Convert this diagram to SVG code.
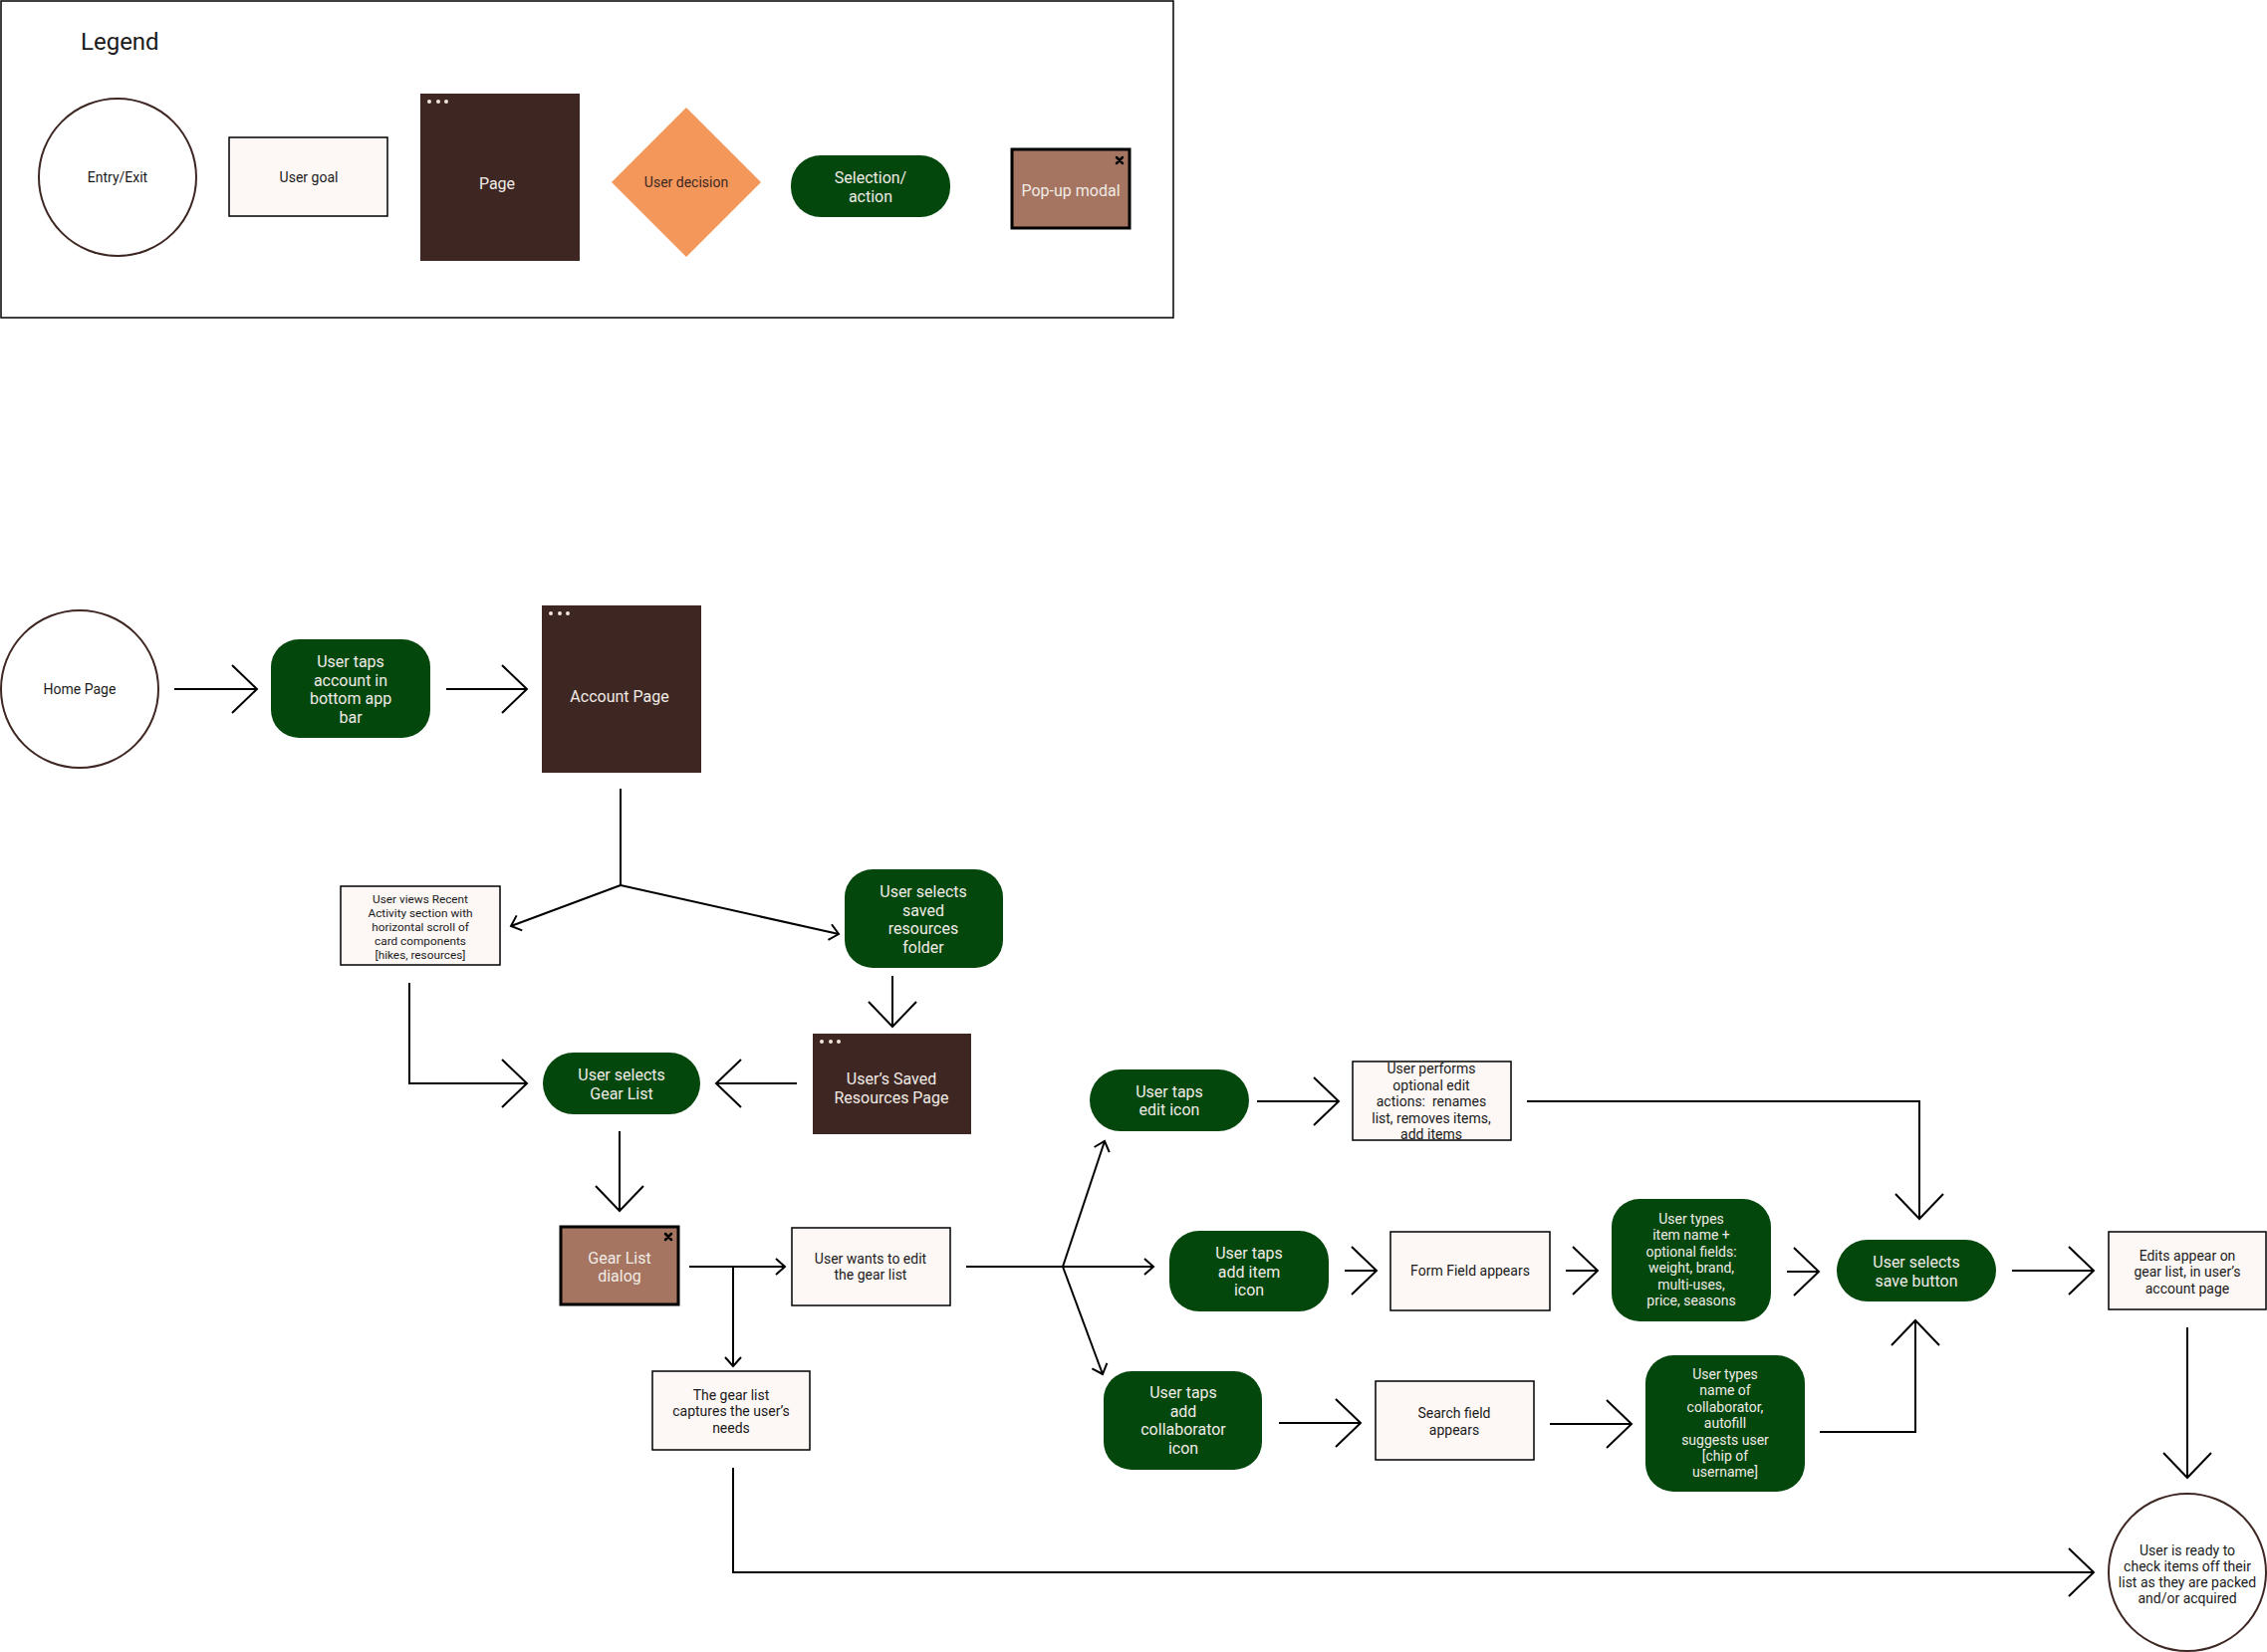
<svg xmlns="http://www.w3.org/2000/svg" width="2276" height="1659" viewBox="0 0 2276 1659">
<style>
text{font-family:Roboto,"Liberation Sans",Arial,sans-serif;text-anchor:middle;dominant-baseline:central}
.dk{fill:#1a1a1a}
.lt{fill:#f1ebe6}
.s16{font-size:16px}
.s14{font-size:14px}
.s12{font-size:11.8px}
.circ{fill:#ffffff;stroke:#3e2723;stroke-width:2}
.goal{fill:#fdf7f6;stroke:#000;stroke-width:1.5}
.page{fill:#3e2723}
.act{fill:#03470d}
.modal{fill:#a57561;stroke:#000;stroke-width:3}
.dot{fill:#f3e6dc}
.xm{stroke:#000;stroke-width:2.5;stroke-linecap:round}
.ln{fill:none;stroke:#000;stroke-width:2}
.big{marker-end:url(#big)}
.sm{marker-end:url(#sm)}
</style>
<defs>
<marker id="big" markerUnits="userSpaceOnUse" markerWidth="60" markerHeight="60" viewBox="-30 -30 60 60" refX="0" refY="0" orient="auto" overflow="visible">
<path d="M-25,-24 L0,0 L-25,24" fill="none" stroke="#000" stroke-width="2"/>
</marker>
<marker id="sm" markerUnits="userSpaceOnUse" markerWidth="30" markerHeight="30" viewBox="-15 -15 30 30" refX="0" refY="0" orient="auto" overflow="visible">
<path d="M-9,-8 L0,0 L-9,8" fill="none" stroke="#000" stroke-width="2"/>
</marker>
</defs>
<rect width="2276" height="1659" fill="#ffffff"/>

<g id="legend">
<rect x="1" y="1" width="1177" height="318" fill="none" stroke="#000" stroke-width="1.5"/>
<text x="81" y="42" class="dk" style="font-size:24px;text-anchor:start">Legend</text>
<g id="legend-entry"><circle cx="118" cy="178" r="79" class="circ"/><text x="118" y="178" class="dk s14">Entry/Exit</text></g>
<g id="legend-goal"><rect x="230" y="138" width="159" height="79" class="goal"/><text x="310" y="178" class="dk s14">User goal</text></g>
<g id="legend-page"><rect x="422" y="94" width="160" height="168" class="page"/><circle cx="431" cy="102" r="2" class="dot"/><circle cx="440" cy="102" r="2" class="dot"/><circle cx="448" cy="102" r="2" class="dot"/><text x="499" y="184" class="lt s16">Page</text></g>
<g id="legend-decision"><polygon points="689,108 764,183 689,258 614,183" fill="#f4975a"/><text x="689" y="183" class="s14" fill="#3e2723">User decision</text></g>
<g id="legend-action"><rect x="794" y="156" width="160" height="62" rx="30" class="act"/><text class="lt s16"><tspan x="874" y="178">Selection/</tspan><tspan x="874" y="197">action</tspan></text></g>
<g id="legend-modal"><rect x="1016" y="150" width="118" height="79" class="modal"/><path d="M1121,158 L1127,164 M1127,158 L1121,164" class="xm"/><text x="1075" y="191" class="lt s16">Pop-up modal</text></g>
</g>

<g id="connectors">
<path d="M175,692 L258,692" class="ln big"/>
<path d="M448,692 L529,692" class="ln big"/>
<path d="M623,792 L623,889" class="ln"/>
<path d="M623,889 L513,930" class="ln sm"/>
<path d="M623,889 L842,938" class="ln sm"/>
<path d="M896,980 L896,1031" class="ln big"/>
<path d="M800,1088 L719,1088" class="ln big"/>
<path d="M411,987 L411,1088 L529,1088" class="ln big"/>
<path d="M622,1136 L622,1216" class="ln big"/>
<path d="M692,1272 L788,1272" class="ln sm"/>
<path d="M736,1272 L736,1372" class="ln sm"/>
<path d="M970,1272 L1067,1272" class="ln"/>
<path d="M1067,1272 L1109,1146" class="ln sm"/>
<path d="M1067,1272 L1158,1272" class="ln sm"/>
<path d="M1067,1272 L1107,1380" class="ln sm"/>
<path d="M1262,1106 L1344,1106" class="ln big"/>
<path d="M1533,1106 L1927,1106 L1927,1224" class="ln big"/>
<path d="M1350,1276 L1382,1276" class="ln big"/>
<path d="M1572,1276 L1604,1276" class="ln big"/>
<path d="M1794,1277 L1826,1277" class="ln big"/>
<path d="M1284,1429 L1366,1429" class="ln big"/>
<path d="M1556,1430 L1638,1430" class="ln big"/>
<path d="M1827,1438 L1923,1438 L1923,1326" class="ln big"/>
<path d="M2020,1276 L2102,1276" class="ln big"/>
<path d="M2196,1333 L2196,1484" class="ln big"/>
<path d="M736,1474 L736,1579 L2102,1579" class="ln big"/>
</g>

<g id="home"><circle cx="80" cy="692" r="79" class="circ"/><text x="80" y="692" class="dk s14">Home Page</text></g>
<g id="tap-account"><rect x="272" y="642" width="160" height="99" rx="28" class="act"/><text class="lt s16"><tspan x="352" y="664">User taps</tspan><tspan x="352" y="683">account in</tspan><tspan x="352" y="701">bottom app</tspan><tspan x="352" y="720">bar</tspan></text></g>
<g id="account-page"><rect x="544" y="608" width="160" height="168" class="page"/><circle cx="553" cy="616" r="2" class="dot"/><circle cx="562" cy="616" r="2" class="dot"/><circle cx="570" cy="616" r="2" class="dot"/><text x="622" y="699" class="lt s16">Account Page</text></g>
<g id="recent"><rect x="342" y="890" width="160" height="79" class="goal"/><text class="dk s12"><tspan x="422" y="903">User views Recent</tspan><tspan x="422" y="917">Activity section with</tspan><tspan x="422" y="931">horizontal scroll of</tspan><tspan x="422" y="945">card components</tspan><tspan x="422" y="959">[hikes, resources]</tspan></text></g>
<g id="saved-folder"><rect x="848" y="873" width="159" height="99" rx="28" class="act"/><text class="lt s16"><tspan x="927" y="895">User selects</tspan><tspan x="927" y="914">saved</tspan><tspan x="927" y="932">resources</tspan><tspan x="927" y="951">folder</tspan></text></g>
<g id="saved-page"><rect x="816" y="1038" width="159" height="101" class="page"/><circle cx="825" cy="1046" r="2" class="dot"/><circle cx="834" cy="1046" r="2" class="dot"/><circle cx="842" cy="1046" r="2" class="dot"/><text class="lt s16"><tspan x="895" y="1083">User’s Saved</tspan><tspan x="895" y="1102">Resources Page</tspan></text></g>
<g id="select-gear"><rect x="545" y="1057" width="158" height="62" rx="31" class="act"/><text class="lt s16"><tspan x="624" y="1079">User selects</tspan><tspan x="624" y="1098">Gear List</tspan></text></g>
<g id="gear-dialog"><rect x="563" y="1232" width="118" height="78" class="modal"/><path d="M668,1239 L674,1245 M674,1239 L668,1245" class="xm"/><text class="lt s16"><tspan x="622" y="1263">Gear List</tspan><tspan x="622" y="1281">dialog</tspan></text></g>
<g id="wants-edit"><rect x="795" y="1233" width="159" height="78" class="goal"/><text class="dk s14"><tspan x="874" y="1264">User wants to edit</tspan><tspan x="874" y="1280">the gear list</tspan></text></g>
<g id="captures"><rect x="655" y="1377" width="158" height="79" class="goal"/><text class="dk s14"><tspan x="734" y="1401">The gear list</tspan><tspan x="734" y="1417">captures the user’s</tspan><tspan x="734" y="1434">needs</tspan></text></g>
<g id="edit-icon"><rect x="1094" y="1074" width="160" height="62" rx="31" class="act"/><text class="lt s16"><tspan x="1174" y="1096">User taps</tspan><tspan x="1174" y="1114">edit icon</tspan></text></g>
<g id="performs"><rect x="1358" y="1066" width="159" height="79" class="goal"/><text class="dk s14"><tspan x="1437" y="1073">User performs</tspan><tspan x="1437" y="1090">optional edit</tspan><tspan x="1437" y="1106">actions:&#160; renames</tspan><tspan x="1437" y="1123">list, removes items,</tspan><tspan x="1437" y="1139">add items</tspan></text></g>
<g id="add-item"><rect x="1174" y="1236" width="160" height="81" rx="30" class="act"/><text class="lt s16"><tspan x="1254" y="1258">User taps</tspan><tspan x="1254" y="1277">add item</tspan><tspan x="1254" y="1295">icon</tspan></text></g>
<g id="form-field"><rect x="1396" y="1237" width="160" height="79" class="goal"/><text x="1476" y="1276" class="dk s14">Form Field appears</text></g>
<g id="add-collab"><rect x="1108" y="1377" width="159" height="99" rx="28" class="act"/><text class="lt s16"><tspan x="1188" y="1398">User taps</tspan><tspan x="1188" y="1417">add</tspan><tspan x="1188" y="1435">collaborator</tspan><tspan x="1188" y="1454">icon</tspan></text></g>
<g id="search-field"><rect x="1381" y="1387" width="159" height="79" class="goal"/><text class="dk s14"><tspan x="1460" y="1419">Search field</tspan><tspan x="1460" y="1436">appears</tspan></text></g>
<g id="types-item"><rect x="1618" y="1204" width="160" height="123" rx="28" class="act"/><text class="lt s14"><tspan x="1698" y="1224">User types</tspan><tspan x="1698" y="1240">item name +</tspan><tspan x="1698" y="1257">optional fields:</tspan><tspan x="1698" y="1273">weight, brand,</tspan><tspan x="1698" y="1290">multi-uses,</tspan><tspan x="1698" y="1306">price, seasons</tspan></text></g>
<g id="types-collab"><rect x="1652" y="1361" width="160" height="137" rx="28" class="act"/><text class="lt s14"><tspan x="1732" y="1380">User types</tspan><tspan x="1732" y="1396">name of</tspan><tspan x="1732" y="1413">collaborator,</tspan><tspan x="1732" y="1429">autofill</tspan><tspan x="1732" y="1446">suggests user</tspan><tspan x="1732" y="1462">[chip of</tspan><tspan x="1732" y="1478">username]</tspan></text></g>
<g id="save"><rect x="1844" y="1245" width="160" height="62" rx="31" class="act"/><text class="lt s16"><tspan x="1924" y="1267">User selects</tspan><tspan x="1924" y="1286">save button</tspan></text></g>
<g id="edits-appear"><rect x="2117" y="1237" width="158" height="78" class="goal"/><text class="dk s14"><tspan x="2196" y="1261">Edits appear on</tspan><tspan x="2196" y="1277">gear list, in user’s</tspan><tspan x="2196" y="1294">account page</tspan></text></g>
<g id="ready"><circle cx="2196" cy="1579" r="79" class="circ"/><text class="dk s14"><tspan x="2196" y="1557">User is ready to</tspan><tspan x="2196" y="1573">check items off their</tspan><tspan x="2196" y="1589">list as they are packed</tspan><tspan x="2196" y="1605">and/or acquired</tspan></text></g>
</svg>
